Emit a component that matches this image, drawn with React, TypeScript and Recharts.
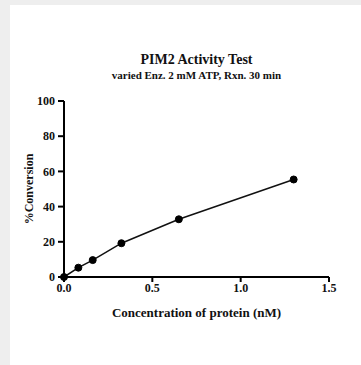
import { LineChart, Line, XAxis, YAxis } from "recharts";

// concentration of protein (nM) and % conversion
const concentration = [0, 0.08125, 0.1625, 0.325, 0.65, 1.3];
const conversion = [0, 5.3, 9.6, 19.2, 32.8, 55.4];
const xTicks = [0, 0.5, 1.0, 1.5];
const yTicks = [0, 20, 40, 60, 80, 100];

const data = concentration.map((c, i) => ({ c, v: conversion[i] }));

const serif = "'Liberation Serif', 'Times New Roman', serif";
const tickStyle = { fontSize: 12, fill: "#111", fontFamily: serif, fontWeight: 700 };

export default function App() {
  return (
    <div
      style={{
        position: "absolute",
        left: 0,
        top: 0,
        width: 361,
        height: 365,
        background: "#eeeeee",
        fontFamily: serif,
      }}
    >
      <div
        style={{
          position: "absolute",
          left: 10,
          top: 5,
          width: 351,
          height: 360,
          background: "#fff",
        }}
      />
      <div
        style={{
          position: "absolute",
          left: 0,
          width: 393,
          top: 52,
          textAlign: "center",
          fontSize: 14,
          fontWeight: 700,
          color: "#111",
          lineHeight: "16px",
        }}
      >
        PIM2 Activity Test
      </div>
      <div
        style={{
          position: "absolute",
          left: 0,
          width: 393,
          top: 69,
          textAlign: "center",
          fontSize: 11,
          fontWeight: 700,
          color: "#111",
          lineHeight: "13px",
        }}
      >
        varied Enz. 2 mM ATP, Rxn. 30 min
      </div>
      <div style={{ position: "absolute", left: 0, top: 0 }}>
        <LineChart
          width={361}
          height={365}
          data={data}
          margin={{ top: 101, right: 32, left: 0, bottom: 48 }}
        >
          <XAxis
            dataKey="c"
            type="number"
            domain={[0, 1.5]}
            ticks={xTicks}
            tickFormatter={(t: number) => t.toFixed(1)}
            tick={tickStyle}
            tickSize={5}
            tickMargin={1}
            height={40}
            stroke="#000"
            strokeWidth={2}
            label={{
              value: "Concentration of protein (nM)",
              position: "insideBottom",
              offset: 0,
              style: { fontSize: 13, fontWeight: 700, fill: "#111", fontFamily: serif },
            }}
          />
          <YAxis
            type="number"
            domain={[0, 100]}
            ticks={yTicks}
            tick={tickStyle}
            tickSize={6}
            tickMargin={3}
            width={64}
            stroke="#000"
            strokeWidth={2}
            label={{
              value: "%Conversion",
              angle: -90,
              position: "insideLeft",
              offset: 29,
              style: {
                fontSize: 12,
                fontWeight: 700,
                fill: "#111",
                fontFamily: serif,
                textAnchor: "middle",
              },
            }}
          />
          <Line
            type="linear"
            dataKey="v"
            stroke="#111"
            strokeWidth={1.5}
            dot={{ r: 3.5, fill: "#000", stroke: "#000", strokeWidth: 1 }}
            isAnimationActive={false}
          />
        </LineChart>
      </div>
    </div>
  );
}
